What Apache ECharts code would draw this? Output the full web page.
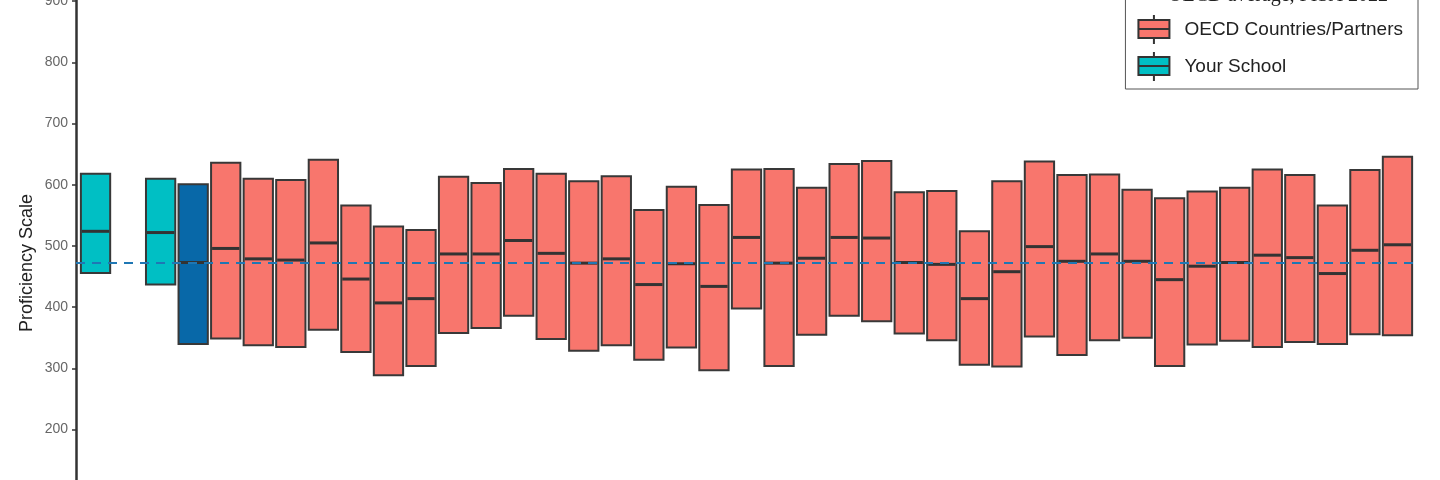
<!DOCTYPE html>
<html>
<head>
<meta charset="utf-8">
<title>Proficiency Scale</title>
<script src="https://cdn.jsdelivr.net/npm/echarts@6/dist/echarts.min.js"></script>
<style>
  html, body { margin: 0; padding: 0; background: #fff; }
  #chart { width: 1440px; height: 480px; }
</style>
</head>
<body>
<div id="chart"></div>
<script>
// slot positions along the x axis (slot 1 is left empty)
const schoolSlot = [0, 2];
const schoolLow = [456, 437];
const schoolMid = [524, 522];
const schoolHigh = [618, 610];

const oecdSlot = [3];
const oecdLow = [340];
const oecdMid = [473];
const oecdHigh = [601];

const countrySlot = [4, 5, 6, 7, 8, 9, 10, 11, 12, 13, 14, 15, 16, 17, 18, 19, 20, 21, 22,
  23, 24, 25, 26, 27, 28, 29, 30, 31, 32, 33, 34, 35, 36, 37, 38, 39, 40];
const countryLow = [349, 338, 335, 363, 327, 289, 304, 358, 366, 386, 348, 329, 338, 314, 334, 297, 398, 304, 355,
  386, 377, 357, 346, 306, 303, 352, 322, 346, 350, 304, 339, 345, 335, 343, 340, 356, 354];
const countryMid = [496, 479, 477, 505, 446, 407, 414, 487, 487, 509, 488, 472, 479, 437, 471, 434, 514, 472, 480,
  514, 513, 473, 470, 414, 458, 499, 475, 487, 475, 445, 467, 473, 485, 481, 455, 493, 502];
const countryHigh = [636, 610, 608, 641, 566, 532, 526, 613, 603, 626, 618, 606, 614, 559, 597, 567, 625, 626, 595,
  634, 639, 588, 590, 524, 606, 638, 616, 617, 592, 578, 589, 595, 625, 616, 566, 624, 646];

const oecdAverage = 473;
const yTicks = [0, 100, 200, 300, 400, 500, 600, 700, 800, 900, 1000];

const boxIcon = 'path://M15.5,0L15.5,5M0,5L31,5L31,23L0,23ZM0,14L31,14M15.5,23L15.5,29';

function rows(slot, lo, mid, hi) {
  return slot.map((s, i) => [s, lo[i], mid[i], hi[i]]);
}

function renderBox(params, api) {
  const x = api.value(0);
  const top = api.coord([x, api.value(3)]);
  const bot = api.coord([x, api.value(1)]);
  const mid = api.coord([x, api.value(2)]);
  const w = api.size([1, 0])[0] * 0.9;
  return {
    type: 'group',
    children: [
      {
        type: 'rect',
        shape: { x: top[0] - w / 2, y: top[1], width: w, height: bot[1] - top[1] },
        style: { fill: api.visual('color'), stroke: '#383838', lineWidth: 2 }
      },
      {
        type: 'line',
        shape: { x1: top[0] - w / 2 + 1, y1: mid[1], x2: top[0] + w / 2 - 1, y2: mid[1] },
        style: { stroke: '#333', lineWidth: 3 }
      }
    ]
  };
}

const myChart = echarts.init(document.getElementById('chart'));
myChart.setOption({
  backgroundColor: '#fff',
  animation: false,
  grid: { left: 76, right: 23, top: -60, bottom: -72, outerBoundsMode: 'none', containLabel: false },
  xAxis: {
    type: 'value',
    min: -0.6,
    max: 40.6,
    show: false
  },
  yAxis: {
    type: 'value',
    min: yTicks[0],
    max: yTicks[yTicks.length - 1],
    interval: 100,
    splitLine: { show: false },
    axisLine: { show: true, onZero: false, lineStyle: { color: '#333', width: 2.5 } },
    axisTick: { show: true, length: 4, lineStyle: { color: '#333', width: 1.5 } },
    axisLabel: { color: '#666', fontSize: 14, margin: 8, fontFamily: 'Liberation Sans', formatter: v => String(v) },
    name: 'Proficiency Scale',
    nameLocation: 'middle',
    nameGap: 40,
    nameMoveOverlap: false,
    nameTextStyle: { color: '#222', fontSize: 18, fontFamily: 'Liberation Sans', padding: [0, 34, 0, 0] }
  },
  legend: {
    orient: 'vertical',
    right: 22,
    top: -16,
    padding: [30, 15, 7, 12],
    itemWidth: 31,
    itemHeight: 29,
    itemGap: 6,
    backgroundColor: '#fff',
    borderColor: '#555',
    borderWidth: 1,
    borderRadius: 0,
    itemStyle: { borderColor: '#333', borderWidth: 2 },
    textStyle: { fontSize: 19, color: '#222', fontFamily: 'Liberation Sans', padding: [0, 0, 0, 10] },
    data: [
      { name: 'OECD Countries/Partners', icon: boxIcon },
      { name: 'Your School', icon: boxIcon }
    ]
  },
  graphic: [{
    type: 'text',
    z: 100,
    x: 1168,
    y: -4,
    style: {
      text: 'OECD average, PISA 2022',
      fill: '#222',
      font: '20px "Liberation Serif"',
      verticalAlign: 'middle'
    }
  }],
  series: [
    {
      name: 'Your School',
      type: 'custom',
      color: '#00BFC4',
      renderItem: renderBox,
      encode: { x: 0, y: [1, 2, 3] },
      data: rows(schoolSlot, schoolLow, schoolMid, schoolHigh)
    },
    {
      name: 'OECD average, PISA 2022',
      type: 'custom',
      color: '#0868A8',
      renderItem: renderBox,
      encode: { x: 0, y: [1, 2, 3] },
      data: rows(oecdSlot, oecdLow, oecdMid, oecdHigh),
      markLine: {
        silent: true,
        symbol: 'none',
        label: { show: false },
        lineStyle: { color: '#1F77B4', width: 2, type: [9, 7] },
        data: [{ yAxis: oecdAverage }]
      }
    },
    {
      name: 'OECD Countries/Partners',
      type: 'custom',
      color: '#F8766D',
      renderItem: renderBox,
      encode: { x: 0, y: [1, 2, 3] },
      data: rows(countrySlot, countryLow, countryMid, countryHigh)
    }
  ]
});
window.addEventListener('resize', myChart.resize);
</script>
</body>
</html>
